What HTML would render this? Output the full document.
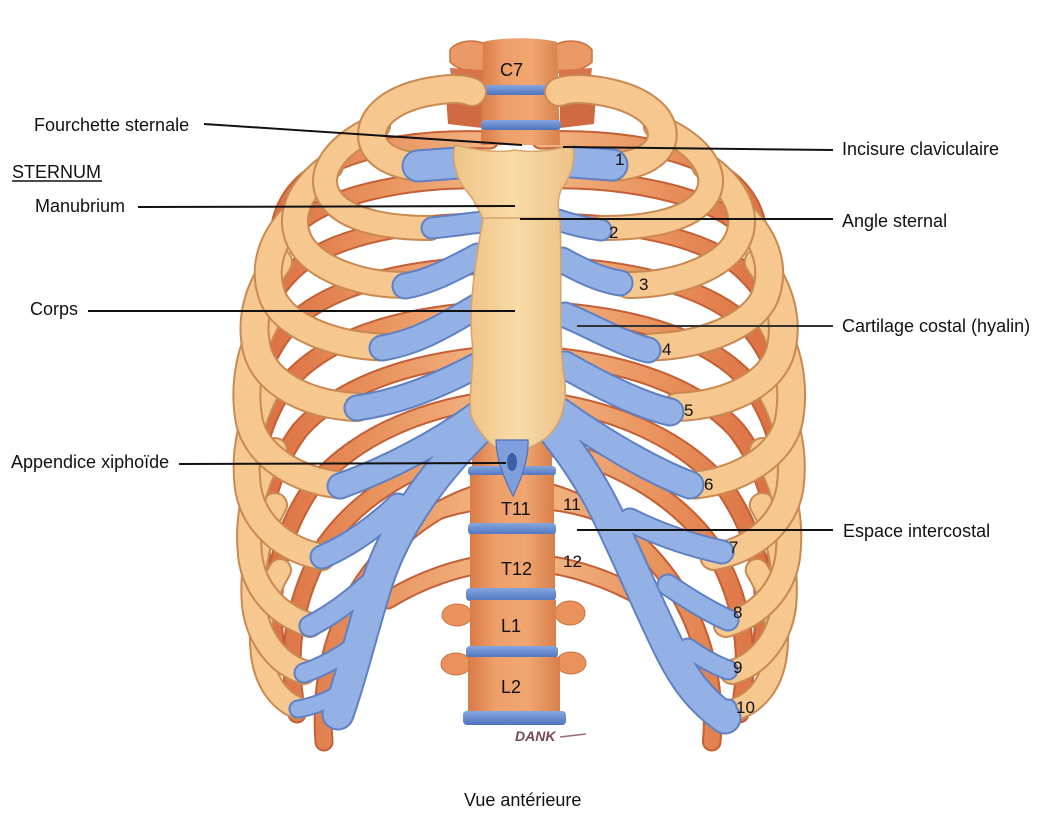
<!DOCTYPE html>
<html><head><meta charset="utf-8">
<style>
html,body{margin:0;padding:0;background:#fff;}
svg{display:block;}
text{font-family:"Liberation Sans",Arial,sans-serif;fill:#111;}
</style></head>
<body>
<svg width="1046" height="819" viewBox="0 0 1046 819" xmlns="http://www.w3.org/2000/svg">
<defs>
 <linearGradient id="pg" gradientUnits="userSpaceOnUse" x1="490" y1="0" x2="255" y2="0">
  <stop offset="0" stop-color="#f2b483"/><stop offset="0.45" stop-color="#e99560"/><stop offset="1" stop-color="#db6c3f"/>
 </linearGradient>
 <linearGradient id="vg" x1="0" y1="0" x2="1" y2="0">
  <stop offset="0" stop-color="#d97b48"/><stop offset="0.3" stop-color="#ee9f6a"/><stop offset="0.65" stop-color="#f0a670"/><stop offset="1" stop-color="#d8804c"/>
 </linearGradient>
 <linearGradient id="dg" x1="0" y1="0" x2="0" y2="1">
  <stop offset="0" stop-color="#86a6df"/><stop offset="1" stop-color="#4e74bd"/>
 </linearGradient>
 <linearGradient id="sg" x1="0" y1="0" x2="1" y2="0">
  <stop offset="0" stop-color="#efc487"/><stop offset="0.5" stop-color="#f8dba8"/><stop offset="1" stop-color="#eec288"/>
 </linearGradient>

 <g id="postP" fill="none">
  <path d="M490,140 C430,138 370,145 330,165 C300,180 285,200 280,225"/>
  <path d="M490,180 C420,178 350,190 310,215 C280,235 268,260 265,290"/>
  <path d="M490,222 C410,222 340,235 300,265 C270,290 258,320 257,360"/>
  <path d="M490,265 C405,268 335,285 295,320 C265,350 253,390 255,430"/>
  <path d="M490,310 C405,315 335,335 295,375 C265,410 252,455 255,500"/>
  <path d="M490,355 C410,362 340,385 300,430 C270,470 258,520 262,570"/>
  <path d="M490,400 C415,410 350,440 310,490 C280,535 268,590 275,640"/>
  <path d="M490,445 C420,460 360,495 325,545 C295,595 285,650 297,714"/>
  <path d="M490,490 C430,505 385,545 355,595 C330,640 320,690 324,742"/>
  <path d="M495,500 C460,502 425,512 398,530"/>
  <path d="M495,563 C460,566 420,580 388,600"/>
 </g>
 <g id="postL" stroke-linecap="round" fill="none">
  <use href="#postP" stroke="#c45f36" stroke-width="19"/>
  <use href="#postP" stroke="url(#pg)" stroke-width="15"/>
 </g>

 <path id="r10" fill="none" d="M298,708 C282,702 266,685 262,655 C258,625 265,595 280,570"/>
 <path id="r9" fill="none" d="M304,672 C280,665 258,640 254,605 C251,570 258,535 275,505"/>
 <path id="r8" fill="none" d="M310,625 C278,615 254,590 250,555 C246,515 255,480 275,450"/>
 <path id="r7" fill="none" d="M322,557 C285,550 254,525 248,488 C243,450 252,415 270,385"/>
 <path id="r6" fill="none" d="M340,485 C295,480 256,455 249,420 C243,385 250,350 266,322"/>
 <path id="r5" fill="none" d="M357,407 C310,405 266,385 257,350 C250,320 258,290 278,262"/>
 <path id="r4" fill="none" d="M382,347 C330,345 285,325 273,298 C262,270 270,240 296,214"/>
 <path id="r3" fill="none" d="M405,285 C360,285 312,268 299,240 C288,215 300,188 330,166"/>
 <path id="r2" fill="none" d="M430,228 C380,228 338,218 327,192 C318,168 340,142 378,126"/>
 <path id="r1" fill="none" d="M420,167 C395,165 372,155 372,135 C372,112 400,95 440,90 C455,88 465,89 472,92"/>

 <g id="antL" fill="none" stroke-linecap="round">
  <use href="#r10" stroke="#c98a52" stroke-width="24"/><use href="#r10" stroke="#f6c78f" stroke-width="20"/>
  <use href="#r9" stroke="#c98a52" stroke-width="26"/><use href="#r9" stroke="#f6c78f" stroke-width="22"/>
  <use href="#r8" stroke="#c98a52" stroke-width="26"/><use href="#r8" stroke="#f6c78f" stroke-width="22"/>
  <use href="#r7" stroke="#c98a52" stroke-width="28"/><use href="#r7" stroke="#f6c78f" stroke-width="24"/>
  <use href="#r6" stroke="#c98a52" stroke-width="29"/><use href="#r6" stroke="#f6c78f" stroke-width="25"/>
  <use href="#r5" stroke="#c98a52" stroke-width="30"/><use href="#r5" stroke="#f6c78f" stroke-width="26"/>
  <use href="#r4" stroke="#c98a52" stroke-width="29"/><use href="#r4" stroke="#f6c78f" stroke-width="25"/>
  <use href="#r3" stroke="#c98a52" stroke-width="28"/><use href="#r3" stroke="#f6c78f" stroke-width="24"/>
  <use href="#r2" stroke="#c98a52" stroke-width="26"/><use href="#r2" stroke="#f6c78f" stroke-width="22"/>
  <use href="#r1" stroke="#c98a52" stroke-width="30"/><use href="#r1" stroke="#f6c78f" stroke-width="26"/>
 </g>
</defs>

<rect width="1046" height="819" fill="#ffffff"/>

<!-- posterior ribs -->
<use href="#postL"/>
<use href="#postL" transform="translate(1045.45,0) scale(-1.03,1)"/>

<!-- spine -->
<g>
 <path d="M450,50 C456,40 478,38 488,46 L488,72 C474,74 458,70 450,62 Z" fill="#ea9865" stroke="#c9703f" stroke-width="1.5"/>
 <path d="M592,50 C586,40 564,38 554,46 L554,72 C568,74 584,70 592,62 Z" fill="#ea9865" stroke="#c9703f" stroke-width="1.5"/>
 <path d="M450,68 L483,70 L483,90 L452,88 Z" fill="#d8744a"/>
 <path d="M446,96 L482,98 L482,128 L448,124 Z" fill="#d06a40"/>
 <path d="M559,70 L592,68 L590,88 L559,90 Z" fill="#d8744a"/>
 <path d="M560,98 L596,96 L594,124 L560,128 Z" fill="#d06a40"/>
 <path d="M483,42 C500,37 540,37 557,42 L560,145 L481,145 Z" fill="url(#vg)"/>
 <rect x="481" y="85" width="80" height="10" rx="4" fill="url(#dg)"/>
 <rect x="481" y="120" width="80" height="10" rx="4" fill="url(#dg)"/>

 <rect x="472" y="436" width="80" height="32" fill="url(#vg)"/>
 <rect x="468" y="466" width="88" height="10" rx="4" fill="url(#dg)"/>
 <rect x="470" y="475" width="84" height="50" fill="url(#vg)"/>
 <rect x="468" y="523" width="88" height="12" rx="4" fill="url(#dg)"/>
 <rect x="470" y="534" width="85" height="56" fill="url(#vg)"/>
 <rect x="466" y="588" width="90" height="13" rx="4" fill="url(#dg)"/>
 <ellipse cx="457" cy="615" rx="15" ry="11" fill="#e9925c" stroke="#c9703f" stroke-width="1"/>
 <ellipse cx="570" cy="613" rx="15" ry="12" fill="#e9925c" stroke="#c9703f" stroke-width="1"/>
 <rect x="470" y="600" width="86" height="48" fill="url(#vg)"/>
 <rect x="466" y="646" width="92" height="12" rx="4" fill="url(#dg)"/>
 <ellipse cx="456" cy="664" rx="15" ry="11" fill="#e9925c" stroke="#c9703f" stroke-width="1"/>
 <ellipse cx="571" cy="663" rx="15" ry="11" fill="#e9925c" stroke="#c9703f" stroke-width="1"/>
 <rect x="468" y="657" width="92" height="56" fill="url(#vg)"/>
 <rect x="463" y="711" width="103" height="14" rx="4" fill="url(#dg)"/>
</g>

<!-- anterior ribs -->
<use href="#antL"/>
<use href="#antL" transform="translate(1045.45,0) scale(-1.03,1)"/>

<!-- cartilages -->
<g fill="none" stroke-linecap="round" stroke="#5f80c2">
 <path d="M418,166 L458,163" stroke-width="33"/>
 <path d="M432,228 C450,226 465,224 482,222" stroke-width="23"/>
 <path d="M405,286 C430,282 455,268 478,256" stroke-width="27"/>
 <path d="M382,348 C420,342 450,322 478,306" stroke-width="27"/>
 <path d="M357,408 C400,402 440,385 478,365" stroke-width="27"/>
 <path d="M340,486 C385,470 435,445 480,412" stroke-width="27"/>
 <path d="M488,420 C440,465 398,520 378,580 C362,630 352,675 338,714" stroke-width="33"/>
 <path d="M322,557 C345,547 372,530 398,505" stroke-width="25"/>
 <path d="M310,626 C328,617 348,603 368,585" stroke-width="23"/>
 <path d="M304,673 C322,667 340,657 356,645" stroke-width="21"/>
 <path d="M298,709 C315,706 330,700 345,690" stroke-width="19"/>

 <path d="M612,165 L572,162" stroke-width="33"/>
 <path d="M601,230 C585,228 570,224 558,220" stroke-width="23"/>
 <path d="M620,283 C600,280 580,270 562,260" stroke-width="27"/>
 <path d="M648,350 C620,343 590,325 565,315" stroke-width="27"/>
 <path d="M670,412 C640,405 600,385 565,365" stroke-width="29"/>
 <path d="M690,485 C650,470 600,440 558,410" stroke-width="29"/>
 <path d="M545,420 C570,450 590,480 605,510 C625,550 650,610 670,650 C685,680 700,700 725,718" stroke-width="33"/>
 <path d="M722,552 C690,545 660,535 630,520" stroke-width="25"/>
 <path d="M728,620 C710,612 690,600 668,585" stroke-width="23"/>
 <path d="M728,670 C715,665 700,657 688,648" stroke-width="21"/>
 <path d="M728,708 C718,708 710,705 705,700" stroke-width="19"/>
</g>
<g fill="none" stroke-linecap="round" stroke="#94b1e5">
 <path d="M418,166 L458,163" stroke-width="29"/>
 <path d="M432,228 C450,226 465,224 482,222" stroke-width="19"/>
 <path d="M405,286 C430,282 455,268 478,256" stroke-width="23"/>
 <path d="M382,348 C420,342 450,322 478,306" stroke-width="23"/>
 <path d="M357,408 C400,402 440,385 478,365" stroke-width="23"/>
 <path d="M340,486 C385,470 435,445 480,412" stroke-width="23"/>
 <path d="M488,420 C440,465 398,520 378,580 C362,630 352,675 338,714" stroke-width="29"/>
 <path d="M322,557 C345,547 372,530 398,505" stroke-width="21"/>
 <path d="M310,626 C328,617 348,603 368,585" stroke-width="19"/>
 <path d="M304,673 C322,667 340,657 356,645" stroke-width="17"/>
 <path d="M298,709 C315,706 330,700 345,690" stroke-width="15"/>

 <path d="M612,165 L572,162" stroke-width="29"/>
 <path d="M601,230 C585,228 570,224 558,220" stroke-width="19"/>
 <path d="M620,283 C600,280 580,270 562,260" stroke-width="23"/>
 <path d="M648,350 C620,343 590,325 565,315" stroke-width="23"/>
 <path d="M670,412 C640,405 600,385 565,365" stroke-width="25"/>
 <path d="M690,485 C650,470 600,440 558,410" stroke-width="25"/>
 <path d="M545,420 C570,450 590,480 605,510 C625,550 650,610 670,650 C685,680 700,700 725,718" stroke-width="29"/>
 <path d="M722,552 C690,545 660,535 630,520" stroke-width="21"/>
 <path d="M728,620 C710,612 690,600 668,585" stroke-width="19"/>
 <path d="M728,670 C715,665 700,657 688,648" stroke-width="17"/>
 <path d="M728,708 C718,708 710,705 705,700" stroke-width="15"/>
</g>

<!-- sternum -->
<path d="M455,145 C480,151 500,153 515,150 C530,153 552,151 573,145 C576,162 570,178 561,190 C557,200 558,210 560,218 L483,220 C478,205 470,195 462,185 C455,172 452,158 455,145 Z" fill="url(#sg)" stroke="#d6a46a" stroke-width="1.5"/>
<path d="M483,218 L560,218 C562,260 559,330 563,370 C568,395 566,420 546,438 C536,445 530,447 526,450 L499,450 C489,444 477,430 471,415 C468,390 475,370 472,340 C468,300 478,250 483,218 Z" fill="url(#sg)" stroke="#d6a46a" stroke-width="1.5"/>
<path d="M496,440 L528,440 C529,460 521,480 513,496 C505,480 496,460 496,440 Z" fill="#7f9fdc" stroke="#4e72b8" stroke-width="1.2"/>
<ellipse cx="512" cy="462" rx="5" ry="9" fill="#3d5fa8"/>

<!-- signature -->
<text x="515" y="741" font-size="14" font-style="italic" style="fill:#7a4658" font-weight="bold">DANK</text>
<path d="M560,737 L586,734" stroke="#9a6a78" stroke-width="1.5"/>

<!-- label lines -->
<g stroke="#111" stroke-width="2" fill="none">
 <path d="M204,124 L522,145"/>
 <path d="M138,207 L515,206"/>
 <path d="M88,311 L515,311"/>
 <path d="M179,464 L506,463"/>
 <path d="M563,147 L833,150"/>
 <path d="M520,219 L833,219"/>
 <path d="M577,326 L833,326" stroke="#333"/>
 <path d="M577,530 L833,530"/>
</g>

<!-- labels -->
<g font-size="18">
 <text x="34" y="131">Fourchette sternale</text>
 <text x="12" y="178">STERNUM</text>
 <text x="35" y="212">Manubrium</text>
 <text x="30" y="315">Corps</text>
 <text x="11" y="468">Appendice xiphoïde</text>
 <text x="842" y="155">Incisure claviculaire</text>
 <text x="842" y="227">Angle sternal</text>
 <text x="842" y="332">Cartilage costal (hyalin)</text>
 <text x="843" y="537">Espace intercostal</text>
 <text x="464" y="806">Vue antérieure</text>

 <text x="500" y="76">C7</text>
 <text x="501" y="515">T11</text>
 <text x="501" y="575">T12</text>
 <text x="501" y="632">L1</text>
 <text x="501" y="693">L2</text>

 <text x="615" y="165" font-size="17">1</text>
 <text x="609" y="238" font-size="17">2</text>
 <text x="639" y="290" font-size="17">3</text>
 <text x="662" y="355" font-size="17">4</text>
 <text x="684" y="416" font-size="17">5</text>
 <text x="704" y="490" font-size="17">6</text>
 <text x="729" y="553" font-size="17">7</text>
 <text x="733" y="618" font-size="17">8</text>
 <text x="733" y="673" font-size="17">9</text>
 <text x="736" y="713" font-size="17">10</text>
 <text x="563" y="510" font-size="17">11</text>
 <text x="563" y="567" font-size="17">12</text>
</g>
<line x1="12" y1="181" x2="102" y2="181" stroke="#111" stroke-width="1.5"/>
</svg>
</body></html>
